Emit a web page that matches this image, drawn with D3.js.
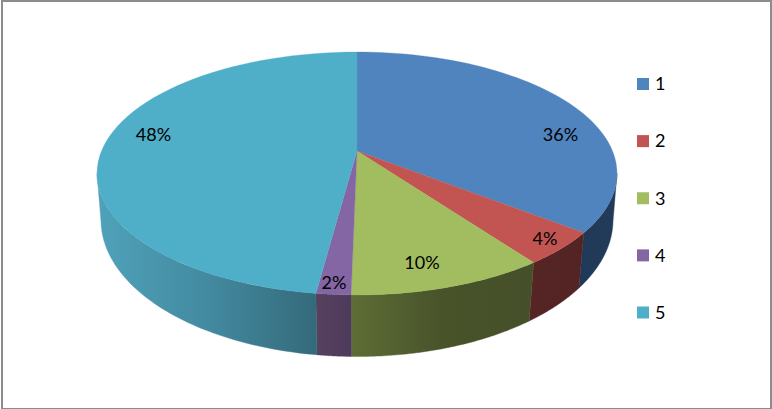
<!DOCTYPE html>
<html><head><meta charset="utf-8">
<script src="https://cdn.jsdelivr.net/npm/d3@7"></script>
<style>html,body{margin:0;padding:0;background:#fff}svg{display:block}text{font-family:Lato,"Open Sans",sans-serif;fill:#000}</style>
</head><body><svg id="c" width="772" height="409"></svg>
<script>
const categories=["1","2","3","4","5"];
const shares=[35.6,4.4,10.3,1.8,47.9];
const labels=["36%","4%","10%","2%","48%"];
const topColors=["#5084bf","#c25552","#a1bd60","#8566a4","#4faec8"];
const wallColors=[["#1f3a58","#223b59"],["#552524","#522423"],["#5e6d35","#48532a","#454f29"],["#57415f","#4e3a5b"],["#4fa2ba","#438aa0","#346a7a"]];
const labelPos=[[560.5,135],[545,239],[422,263],[334,283],[153.5,135]];

const svg=d3.select("#c");
svg.append("rect").attr("x",2).attr("y",1).attr("width",769).attr("height",408)
  .attr("fill","#fff").attr("stroke","#8c8c8c").attr("stroke-width",2);

const persp=0.185;
const project=(A,B,cy,k)=>t=>{const x=Math.sin(t),y=Math.cos(t),w=1+k*y;return [357+A*x/w,cy-B*y/w];};
const topP=project(255.5,117.3,151,persp);
const botP=project(252.2,132.5,196.5,0.172);
const pie=d3.pie().value(d=>d).sort(null);
const arcs=pie(shares);
const color=d3.scaleOrdinal(categories,topColors);
const line=d3.line();
const samples=(a,b)=>d3.range(0,61).map(i=>a+(b-a)*i/60);
// the near side of the disc runs between its two silhouette points
const nearFrom=Math.acos(-persp),nearTo=2*Math.PI-nearFrom;

const defs=svg.append("defs");
const walls=svg.append("g"),tops=svg.append("g");
arcs.forEach((d,i)=>{
  const a=Math.max(d.startAngle,nearFrom),b=Math.min(d.endAngle,nearTo);
  if(b<=a) return;
  const ts=samples(a,b);
  const up=ts.map(topP),lo=ts.map(botP);
  const xs=up.concat(lo).map(p=>p[0]);
  const id="w"+i;
  const cols=wallColors[i];
  const grad=defs.append("linearGradient").attr("id",id).attr("gradientUnits","userSpaceOnUse")
    .attr("x1",d3.min(xs)).attr("x2",d3.max(xs)).attr("y1",0).attr("y2",0);
  cols.forEach((c,j)=>grad.append("stop").attr("offset",j/(cols.length-1)).attr("stop-color",c));
  walls.append("path").attr("d",line(up.concat(lo.slice().reverse()))+"Z").attr("fill",`url(#${id})`)
    .attr("stroke",`url(#${id})`).attr("stroke-width",.4);
});
arcs.forEach((d,i)=>{
  const pts=[[357,151]].concat(samples(d.startAngle,d.endAngle).map(topP));
  tops.append("path").attr("d",line(pts)+"Z").attr("fill",color(categories[i]))
    .attr("stroke",color(categories[i])).attr("stroke-width",.3);
});
svg.append("g").selectAll("text").data(labels).join("text")
  .attr("x",(d,i)=>labelPos[i][0]).attr("y",(d,i)=>labelPos[i][1]).attr("dy","0.35em")
  .attr("text-anchor","middle").style("font-size","18px").text(d=>d);

const ly=d3.scalePoint(categories,[84,312.5]);
const lg=svg.append("g").selectAll("g").data(categories).join("g")
  .attr("transform",d=>`translate(0,${ly(d)})`);
lg.append("rect").attr("x",637).attr("y",-6).attr("width",12).attr("height",12).attr("fill",d=>color(d));
lg.append("text").attr("x",655).attr("dy","0.35em").style("font-size","18px").text(d=>d);
</script></body></html>
